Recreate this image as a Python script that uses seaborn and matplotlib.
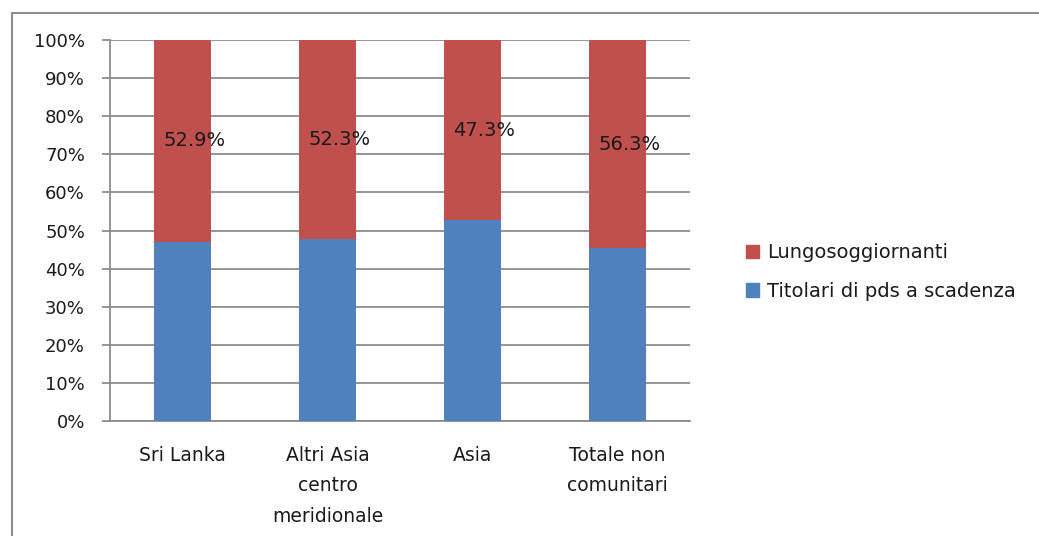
import matplotlib.pyplot as plt
import matplotlib.patches as mpatches
import numpy as np
import pandas as pd
import seaborn as sns

# Data
categories = ['Sri Lanka', 'Altri Asia\ncentro\nmeridionale', 'Asia', 'Totale non\ncomunitari']
titolari = [47.1, 47.7, 52.7, 45.4]
lungo_labels = ['52.9%', '52.3%', '47.3%', '56.3%']
yticks = [0, 10, 20, 30, 40, 50, 60, 70, 80, 90, 100]

red = '#C0504D'
blue = '#4F81BD'
grid_col = '#8C8C8C'
text_col = '#1a1a1a'

sns.set_theme(style='white')
plt.rcParams['font.family'] = ['DejaVu Sans']

df = pd.DataFrame({'cat': categories, 'titolari': titolari})
df['totale'] = 100

fig = plt.figure(figsize=(10.39, 5.36), dpi=100)
ax = fig.add_axes([110 / 1039, 1 - 421 / 536, 580 / 1039, 381 / 536])

# outer chart frame
fig.patches.append(mpatches.Rectangle((12 / 1039, -0.1), 1.2, 1.1 - 13 / 536,
                                      transform=fig.transFigure, fill=False,
                                      edgecolor=grid_col, linewidth=1.5))

sns.barplot(data=df, x='cat', y='totale', color=red, width=0.39, saturation=1,
            ax=ax, zorder=3, edgecolor='none', linewidth=0)
sns.barplot(data=df, x='cat', y='titolari', color=blue, width=0.39, saturation=1,
            ax=ax, zorder=3, edgecolor='none', linewidth=0)

for i, (b, lab) in enumerate(zip(titolari, lungo_labels)):
    ax.text(i + 0.08, b + (100 - b) / 2, lab, ha='center', va='center',
            fontsize=14, color=text_col, zorder=4)

ax.set_ylim(0, 100)
ax.set_xlim(-0.5, 3.5)
ax.set_yticks(yticks)
ax.set_yticklabels([f'{t}%' for t in yticks], fontsize=13, color=text_col)
ax.yaxis.grid(True, color=grid_col, linewidth=1.3, zorder=0)
ax.set_axisbelow(True)

ax.set_xticks(range(len(categories)))
ax.set_xticklabels(categories, fontsize=13.5, linespacing=1.75, color=text_col)
ax.set_xticks(np.arange(-0.5, 4, 1), minor=True)
ax.tick_params(axis='x', which='major', length=0, pad=18)
ax.tick_params(axis='x', which='minor', length=6, width=1.3, color=grid_col, direction='out')
ax.tick_params(axis='y', length=6, width=1.3, color=grid_col, direction='out', left=True, pad=12)
ax.set_xlabel('')
ax.set_ylabel('')

for s in ['top', 'right']:
    ax.spines[s].set_visible(False)
for s in ['left', 'bottom']:
    ax.spines[s].set_color(grid_col)
    ax.spines[s].set_linewidth(1.3)

handles = [mpatches.Patch(color=red, label='Lungosoggiornanti'),
           mpatches.Patch(color=blue, label='Titolari di pds a scadenza')]
leg = fig.legend(handles=handles, loc='center left', bbox_to_anchor=(728 / 1039, 1 - 272 / 536),
                 frameon=False, fontsize=14, handlelength=0.7, handleheight=0.7,
                 handletextpad=0.4, labelspacing=1.0)
for t in leg.get_texts():
    t.set_color(text_col)

fig.savefig('out.png', dpi=100)
